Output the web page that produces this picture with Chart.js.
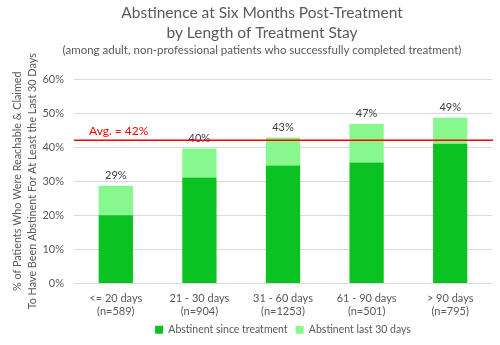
<!DOCTYPE html>
<html>
<head>
<meta charset="utf-8">
<script src="https://cdn.jsdelivr.net/npm/chart.js@4"></script>
<style>
  html, body { margin:0; padding:0; background:#fff; }
  #wrap { width:500px; height:345px; }
</style>
</head>
<body>
<div id="wrap"><canvas id="chart"></canvas></div>
<script>
// ===== DATA =====
const categories = [
  ['<= 20 days', '(n=589)'],
  ['21 - 30 days', '(n=904)'],
  ['31 - 60 days', '(n=1253)'],
  ['61 - 90 days', '(n=501)'],
  ['> 90 days', '(n=795)'],
];
const sinceTreatment = [20.0, 31.1, 34.6, 35.5, 41.0];
const last30Days = [8.6, 8.5, 8.2, 11.3, 7.6];
const yTicks = [0, 10, 20, 30, 40, 50, 60];
const average = 42;

const FONT = 'Lato, "Open Sans", sans-serif';
const GREY = '#595959';

// titres + moyenne + étiquettes de total
const extras = {
  id: 'extras',
  afterDatasetsDraw(chart) {
    const { ctx, chartArea, scales } = chart;
    const x = scales.x, y = scales.y;
    ctx.save();
    // étiquettes au-dessus des barres
    ctx.fillStyle = '#404040';
    ctx.font = '11px ' + FONT;
    ctx.textAlign = 'center';
    ctx.textBaseline = 'bottom';
    sinceTreatment.forEach((v, i) => {
      const tot = v + last30Days[i];
      ctx.fillText(Math.round(tot) + '%', x.getPixelForValue(i), y.getPixelForValue(tot) - 5);
    });
    // ligne de moyenne
    const ay = y.getPixelForValue(average);
    ctx.strokeStyle = '#FF0000';
    ctx.lineWidth = 1.5;
    ctx.beginPath();
    ctx.moveTo(chartArea.left, ay);
    ctx.lineTo(chartArea.right + 1, ay);
    ctx.stroke();
    ctx.fillStyle = '#FF0000';
    ctx.font = '12px ' + FONT;
    ctx.textAlign = 'left';
    ctx.textBaseline = 'bottom';
    ctx.fillText('Avg. = ' + average + '%', chartArea.left + 15, ay - 3);
    // titres
    ctx.fillStyle = GREY;
    ctx.textAlign = 'center';
    ctx.textBaseline = 'middle';
    ctx.font = '15.5px ' + FONT;
    ctx.fillText('Abstinence at Six Months Post-Treatment', 262, 13);
    ctx.fillText('by Length of Treatment Stay', 262, 33);
    ctx.font = '11.5px ' + FONT;
    ctx.fillText('(among adult, non-professional patients who successfully completed treatment)', 262, 50);
    ctx.restore();
  }
};

new Chart(document.getElementById('chart'), {
  type: 'bar',
  data: {
    labels: categories,
    datasets: [
      { label:'Abstinent since treatment', data:sinceTreatment, backgroundColor:'#0AC320', categoryPercentage:1, barPercentage:0.41 },
      { label:'Abstinent last 30 days', data:last30Days, backgroundColor:'#86F88E', categoryPercentage:1, barPercentage:0.41 },
    ]
  },
  options: {
    responsive:true, maintainAspectRatio:false, animation:false,
    layout:{ padding:{ top:79, right:8, left:0, bottom:0 } },
    plugins:{
      legend:{ position:'bottom', fullSize:false,
        labels:{ color:GREY, font:{ family:FONT, size:10.5 }, boxWidth:8, boxHeight:8, padding:8 } },
      tooltip:{ enabled:false }
    },
    scales:{
      x:{ stacked:true,
        grid:{ display:false }, border:{ display:false },
        ticks:{ color:GREY, font:{ family:FONT, size:11 }, padding:0 },
        afterFit:s => { s.height = 33; }
      },
      y:{ stacked:true, min:0, max:60,
        afterBuildTicks:s => { s.ticks = yTicks.map(v => ({ value:v })); },
        grid:{ color:'#D9D9D9', drawTicks:false }, border:{ display:false },
        ticks:{ color:GREY, font:{ family:FONT, size:11 }, padding:10, callback:v => v + '%' },
        title:{ display:true, text:['% of Patients Who Were Reachable & Claimed', 'To Have Been Abstinent For At Least the Last 30 Days'],
          color:GREY, font:{ family:FONT, size:10.8, lineHeight:1.38 }, padding:{ top:10, bottom:4 } },
        afterFit:s => { s.width = 74; }
      }
    }
  },
  plugins:[extras]
});
</script>
</body>
</html>
